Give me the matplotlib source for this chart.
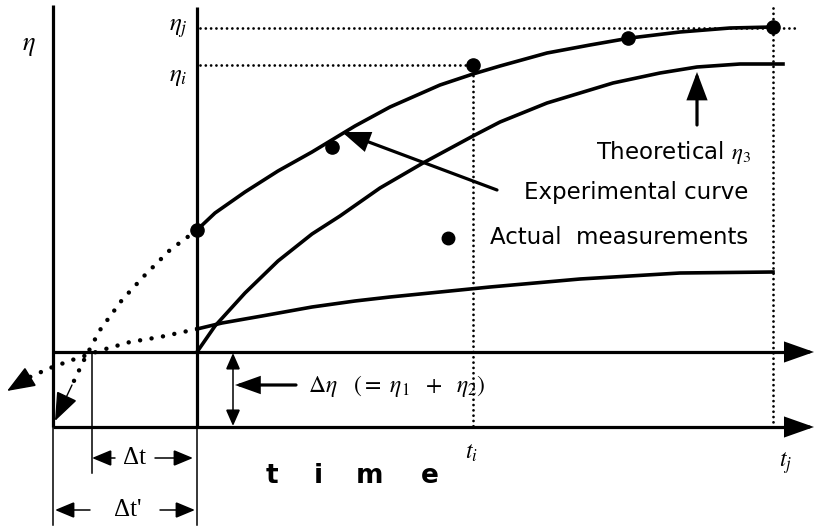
import matplotlib
matplotlib.use("Agg")
import matplotlib.pyplot as plt
from matplotlib.patches import FancyArrowPatch

plt.rcParams["mathtext.fontset"] = "stix"

# Diagram coordinates: x runs right (time), y runs down (figure rows)
exp_t = [197, 215, 245, 278, 312, 355, 390, 440, 473, 500, 547, 590, 630, 680, 730, 773]
exp_eta = [230, 213, 192, 171, 152, 126, 107, 85, 74, 66, 53, 45, 38, 32, 28, 27]

theo_t = [197, 215, 245, 278, 312, 340, 380, 423, 473, 500, 547, 613, 660, 697, 740, 783]
theo_eta = [352, 326, 293, 261, 234, 216, 188, 163, 136, 122, 103, 83, 73, 67, 64, 64]

low_t = [197, 222, 262, 312, 355, 390, 490, 580, 680, 773]
low_eta = [329, 323, 316, 307, 301, 297, 287, 279, 273, 272]

meas_t = [197, 332, 473, 628, 773]
meas_eta = [230, 147, 65, 38, 27]

# back-extrapolated parts of the experimental and lower curves
ext_up_t = [197, 170, 145, 122, 100, 85, 72]
ext_up_eta = [230, 250, 275, 300, 330, 358, 385]
ext_low_t = [197, 160, 130, 102, 75, 50, 30]
ext_low_eta = [329, 337, 342, 350, 359, 368, 377]

x_left, x_zero, x_dt = 53, 197, 92
y_eta0, y_time = 352, 427
t_i, t_j = 473, 773
eta_i, eta_j = 65, 28

fig = plt.figure(figsize=(8.16, 5.27), dpi=100)
ax = fig.add_axes([0, 0, 1, 1])
ax.set_xlim(0, 816)
ax.set_ylim(527, 0)
ax.axis("off")

K = "black"
THICK = 2.3
THIN = 1.1


def arrow(tail, tip, lw=THIN, hl=0.6, hw=0.25, style="-|>"):
    ax.add_patch(FancyArrowPatch(
        posA=tail, posB=tip,
        arrowstyle=f"{style},head_length={hl},head_width={hw}",
        mutation_scale=20, lw=lw, color=K, shrinkA=0, shrinkB=0,
        joinstyle="miter", zorder=4))


# vertical lines
ax.plot([x_left, x_left], [5, y_time], color=K, lw=THICK, solid_capstyle="butt")
ax.plot([x_left, x_left], [y_time, 525], color=K, lw=THIN)
ax.plot([x_zero, x_zero], [7, y_time], color=K, lw=THICK, solid_capstyle="butt")
ax.plot([x_zero, x_zero], [y_time, 525], color=K, lw=THIN)
ax.plot([x_dt, x_dt], [y_eta0, 473], color=K, lw=THIN)

# horizontal axes with arrowheads
for y in (y_eta0, y_time):
    ax.plot([x_left, 795], [y, y], color=K, lw=THICK, solid_capstyle="butt")
    arrow((785, y), (814, y), lw=THICK, hl=0.85, hw=0.3)

# dotted guides
dots = dict(color=K, lw=2.0, linestyle=(0, (0.01, 1.9)), dash_capstyle="round")
ax.plot([200, 795], [eta_j, eta_j], **dots)
ax.plot([200, t_i], [eta_i, eta_i], **dots)
ax.plot([t_i, t_i], [eta_i, y_time], **dots)
ax.plot([t_j, t_j], [8, y_time], **dots)

# curves
ax.plot(exp_t, exp_eta, color=K, lw=2.6, solid_joinstyle="round")
ax.plot(theo_t, theo_eta, color=K, lw=2.6, solid_joinstyle="round")
ax.plot(low_t, low_eta, color=K, lw=2.6, solid_joinstyle="round")
ax.plot(meas_t, meas_eta, "o", color=K, ms=9.5)

# dotted extrapolations ending in arrowheads
edots = dict(color=K, lw=3.2, linestyle=(0, (0.01, 2.6)), dash_capstyle="round")
ax.plot(ext_up_t, ext_up_eta, **edots)
ax.plot(ext_low_t, ext_low_eta, **edots)
arrow((ext_up_t[-1], ext_up_eta[-1]), (55, 421), lw=1.0, hl=0.9, hw=0.35)
arrow((ext_low_t[-1], ext_low_eta[-1]), (7, 391), lw=1.0, hl=0.9, hw=0.35)

# annotation arrows
arrow((497, 190), (342, 132), lw=THICK, hl=0.8, hw=0.3)
arrow((697, 125), (697, 72), lw=THICK, hl=0.8, hw=0.3)
arrow((296, 385), (235, 385), lw=THICK, hl=0.7, hw=0.25)
arrow((233, y_time - 1), (233, y_eta0 + 1), hl=0.5, hw=0.22, style="<|-|>")
arrow((115, 458), (x_dt, 458))
arrow((155, 458), (x_zero - 4, 458))
arrow((90, 510), (x_left + 2, 510))
arrow((160, 510), (x_zero - 2, 510))

# labels
ax.text(29, 45, r"$\eta$", fontsize=19, ha="center", va="center")
ax.text(178, 28, r"$\eta_j$", fontsize=18, ha="center", va="center")
ax.text(178, 76, r"$\eta_i$", fontsize=18, ha="center", va="center")
ax.text(t_i - 2, 452, r"$t_i$", fontsize=17, ha="center", va="center")
ax.text(t_j + 13, 463, r"$t_j$", fontsize=17, ha="center", va="center")
ax.text(135, 458, "Δt", family="Liberation Serif", fontsize=18, ha="center", va="center")
ax.text(128, 510, "Δt'", family="Liberation Serif", fontsize=18, ha="center", va="center")
ax.text(308, 386, r"$\Delta\eta\ \ \ (=\ \eta_1\ \ +\ \ \eta_2)$", fontsize=17,
        ha="left", va="center")

for ch, x in zip("time", [272, 318, 370, 430]):
    ax.text(x, 476, ch, fontsize=19, fontweight="bold", ha="center", va="center")

ax.text(751, 152, r"Theoretical $\eta_3$", fontsize=16.5, ha="right", va="center")
ax.text(748, 193, "Experimental curve", fontsize=16.5, ha="right", va="center")
ax.plot([448], [238], "o", color=K, ms=9)
ax.text(748, 238, "Actual  measurements", fontsize=16.5, ha="right", va="center")

fig.savefig("out.png", dpi=100, facecolor="white")
